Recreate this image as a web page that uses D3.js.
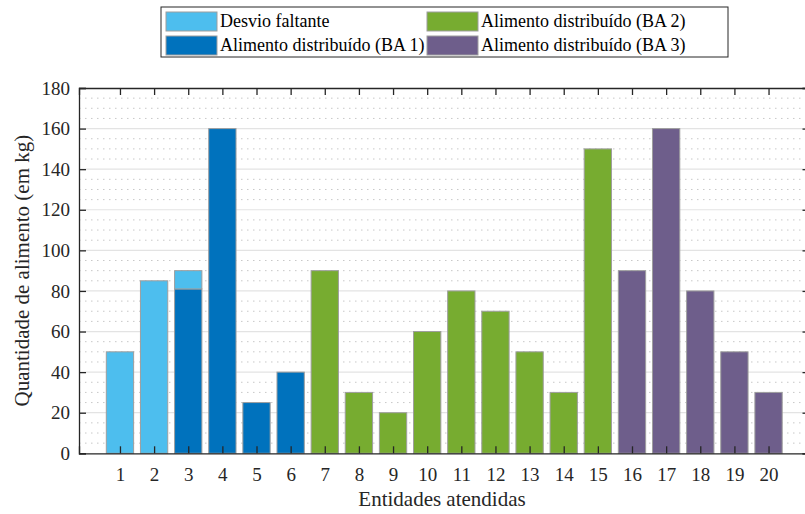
<!DOCTYPE html>
<html>
<head>
<meta charset="utf-8">
<script src="https://cdn.jsdelivr.net/npm/d3@7"></script>
</head>
<body style="margin:0;padding:0;background:#fff">
<svg id="chart" width="805" height="514" style="display:block"></svg>
<script>
// Entities served (x axis)
const entities = d3.range(1, 21);
// Food distributed per depot, and remaining shortfall (kg)
const desvioFaltante = [50, 85, 9, 0, 0, 0, 0, 0, 0, 0, 0, 0, 0, 0, 0, 0, 0, 0, 0, 0];
const alimentoBA1    = [0, 0, 81, 160, 25, 40, 0, 0, 0, 0, 0, 0, 0, 0, 0, 0, 0, 0, 0, 0];
const alimentoBA2    = [0, 0, 0, 0, 0, 0, 90, 30, 20, 60, 80, 70, 50, 30, 150, 0, 0, 0, 0, 0];
const alimentoBA3    = [0, 0, 0, 0, 0, 0, 0, 0, 0, 0, 0, 0, 0, 0, 0, 90, 160, 80, 50, 30];
const yTicks = [0, 20, 40, 60, 80, 100, 120, 140, 160, 180];
const seriesNames = ["Desvio faltante", "Alimento distribuído (BA 1)", "Alimento distribuído (BA 2)", "Alimento distribuído (BA 3)"];
const seriesColors = ["#4dbeee", "#0072bd", "#77ac30", "#6e5e8b"];

const FONT = "'Liberation Serif', serif";
const svg = d3.select("#chart");
const margin = { left: 79, right: 809.5, top: 88, bottom: 453.3 };

const x = d3.scaleLinear().domain([-0.2, 21.2]).range([margin.left, margin.right]);
const y = d3.scaleLinear().domain([0, 180]).range([margin.bottom, margin.top]);
const barW = (x(1) - x(0)) * 0.8;

// Minor dotted grid every 5 kg
const minor = d3.range(5, 180, 5).filter(v => v % 20 !== 0);
svg.append("g").selectAll("line").data(minor).join("line")
  .attr("x1", margin.left).attr("x2", margin.right)
  .attr("y1", d => y(d)).attr("y2", d => y(d))
  .attr("stroke", "#c8c8c8").attr("stroke-width", 1)
  .attr("stroke-dasharray", "1.5,4.5");

// Major grid
svg.append("g").selectAll("line").data(yTicks.slice(1, -1)).join("line")
  .attr("x1", margin.left).attr("x2", margin.right)
  .attr("y1", d => y(d)).attr("y2", d => y(d))
  .attr("stroke", "#e3e3e3").attr("stroke-width", 1.2);

// Stacked bars: depots at the base, shortfall on top
const rows = entities.map((e, i) => ({
  e,
  ba1: alimentoBA1[i], ba2: alimentoBA2[i], ba3: alimentoBA3[i], desvio: desvioFaltante[i]
}));
const stack = d3.stack().keys(["ba1", "ba2", "ba3", "desvio"]);
const layers = stack(rows);
const colorOf = { ba1: seriesColors[1], ba2: seriesColors[2], ba3: seriesColors[3], desvio: seriesColors[0] };

svg.append("g").selectAll("g").data(layers).join("g")
  .attr("fill", d => colorOf[d.key])
  .selectAll("rect").data(d => d.filter(p => p[1] - p[0] > 0)).join("rect")
  .attr("x", d => x(d.data.e) - barW / 2)
  .attr("width", barW)
  .attr("y", d => y(d[1]))
  .attr("height", d => y(d[0]) - y(d[1]))
  .attr("stroke", "#9e9e9e").attr("stroke-width", 1);

// Axes (box with inward ticks)
const axisColor = "#262626";
const fontSize = 19;

const yAxis = svg.append("g").attr("transform", `translate(${margin.left},0)`)
  .call(d3.axisLeft(y).tickValues(yTicks).tickSize(-7).tickPadding(9));
const xAxis = svg.append("g").attr("transform", `translate(0,${margin.bottom})`)
  .call(d3.axisBottom(x).tickValues(entities).tickFormat(d3.format("d")).tickSize(-7).tickPadding(14));
const xTop = svg.append("g").attr("transform", `translate(0,${margin.top})`)
  .call(d3.axisTop(x).tickValues(entities).tickSize(-7).tickFormat(""));
const yRight = svg.append("g").attr("transform", `translate(${margin.right},0)`)
  .call(d3.axisRight(y).tickValues(yTicks).tickSize(-7).tickFormat(""));

[yAxis, xAxis, xTop, yRight].forEach(g => {
  g.attr("font-family", "Liberation Serif");
  g.select(".domain").attr("stroke", axisColor).attr("stroke-width", 1.3);
  g.selectAll(".tick line").attr("stroke", axisColor).attr("stroke-width", 1.3);
  g.selectAll(".tick text").attr("fill", "#262626")
    .style("font-family", FONT).attr("font-size", fontSize);
});

// Axis titles
svg.append("text")
  .attr("x", (margin.left + 805) / 2).attr("y", 506)
  .attr("text-anchor", "middle").style("font-family", FONT).attr("font-size", 21).attr("fill", "#262626")
  .text("Entidades atendidas");
svg.append("text")
  .attr("transform", `translate(29,${(margin.top + margin.bottom) / 2}) rotate(-90)`)
  .attr("text-anchor", "middle").style("font-family", FONT).attr("font-size", 21).attr("fill", "#262626")
  .text("Quantidade de alimento (em kg)");

// Legend
const legend = svg.append("g");
legend.append("rect")
  .attr("x", 161).attr("y", 7).attr("width", 567).attr("height", 50)
  .attr("fill", "#fff").attr("stroke", "#262626").attr("stroke-width", 1);
const legendPos = [
  { cx: 166, cy: 12 }, { cx: 166, cy: 36 },
  { cx: 427, cy: 12 }, { cx: 427, cy: 36 }
];
seriesNames.forEach((name, i) => {
  const p = legendPos[i];
  legend.append("rect")
    .attr("x", p.cx).attr("y", p.cy).attr("width", 51).attr("height", 19)
    .attr("fill", seriesColors[i]).attr("stroke", "#9e9e9e").attr("stroke-width", 1);
  legend.append("text")
    .attr("x", p.cx + 54).attr("y", p.cy + 15)
    .style("font-family", FONT).attr("font-size", 18).attr("fill", "#000")
    .text(name);
});
</script>
</body>
</html>
